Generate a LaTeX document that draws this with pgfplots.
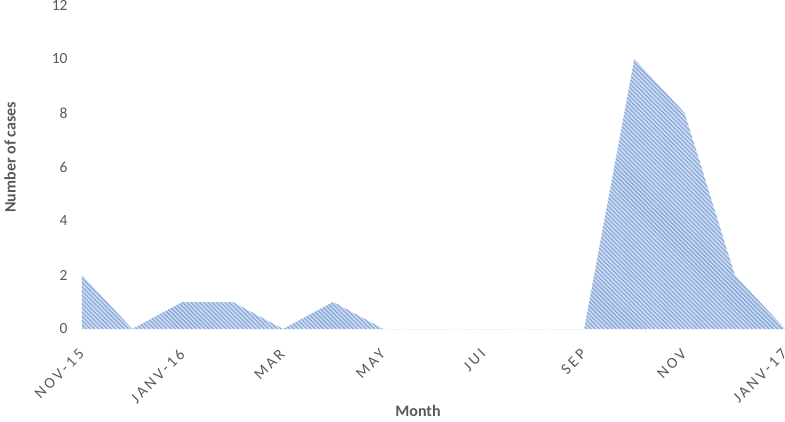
\documentclass[border=0pt]{standalone}
\usepackage{fontspec}
\setmainfont{Carlito}
\newfontfamily\spaced[LetterSpace=18]{Carlito}
\usepackage{pgfplots}
\pgfplotsset{compat=1.18}
\usetikzlibrary{patterns.meta}
\definecolor{txt}{HTML}{595959}
\definecolor{areafill}{HTML}{CCDBF1}
\definecolor{stripe}{HTML}{84A5D8}
\begin{document}
\begin{tikzpicture}
\begin{axis}[
  scale only axis, width=703pt, height=324pt,
  xmin=0, xmax=14, ymin=0, ymax=12,
  axis line style={draw=none},
  major tick length=0pt,
  ytick={0,2,...,12},
  xtick={0,2,...,14},
  xticklabels={NOV-15,JANV-16,MAR,MAY,JUI,SEP,NOV,JANV-17},
  tick label style={text=txt},
  yticklabel style={font=\fontsize{15.5}{18}\selectfont, anchor=east, xshift=-11pt},
  xticklabel style={font=\spaced\fontsize{15.5}{18}\selectfont, rotate=45, anchor=north east, xshift=-13pt, yshift=-7pt},
  /pgf/number format/assume math mode=true,
  xlabel={Month},
  ylabel={Number of cases},
  label style={font=\bfseries\fontsize{16}{19}\selectfont, text=txt},
  xlabel style={at={(axis description cs:0.478,0)}, anchor=center, yshift=-82pt},
  ylabel style={at={(axis description cs:-0.1024,0.53)}, anchor=center},
  clip=false,
]
\addplot[draw=none, fill=areafill,
  postaction={pattern={Lines[angle=-45,distance=3pt,line width=1.1pt]}, pattern color=stripe}]
  table[x=m, y=n] {
m n
0 2
1 0
2 1
3 1
4 0
5 1
6 0
7 0
8 0
9 0
10 0
11 10
12 8
13 2
14 0
} \closedcycle;
\end{axis}
\pgfresetboundingbox
\useasboundingbox (-82pt,-92pt) rectangle (703pt,329pt);
\end{tikzpicture}
\end{document}
